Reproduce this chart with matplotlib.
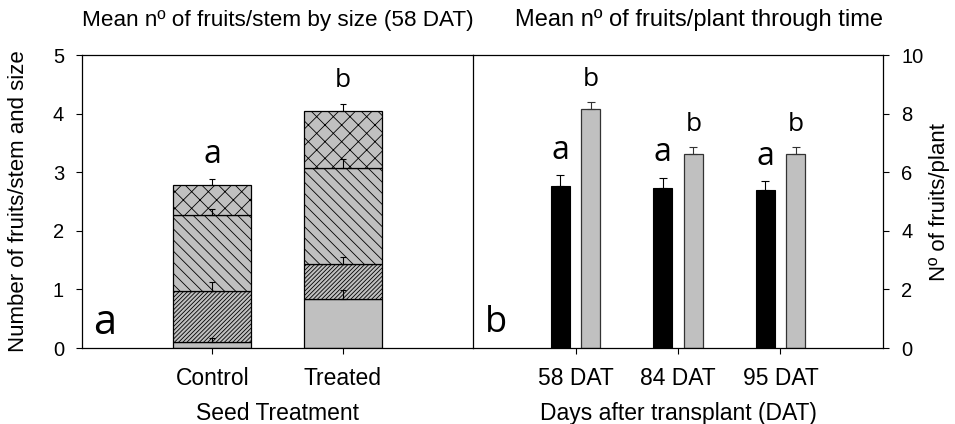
import matplotlib
matplotlib.use('Agg')
import matplotlib.pyplot as plt
import numpy as np

# ---- data ----
treatments = ['Control', 'Treated']
# stacked segments by fruit size class, bottom to top
seg_control = [0.10, 0.87, 1.30, 0.52]
seg_treated = [0.83, 0.60, 1.65, 0.96]
err_control = [0.07, 0.15, 0.11, 0.09]
err_treated = [0.16, 0.12, 0.14, 0.13]
letters_stem = ['a', 'b']

dat_labels = ['58 DAT', '84 DAT', '95 DAT']
plant_control = [5.54, 5.47, 5.38]
plant_control_err = [0.37, 0.35, 0.33]
plant_treated = [8.15, 6.63, 6.63]
plant_treated_err = [0.26, 0.23, 0.23]
letters_control = ['a', 'a', 'a']
letters_treated = ['b', 'b', 'b']

# ---- style ----
plt.rcParams['font.family'] = ['Liberation Sans', 'DejaVu Sans']
plt.rcParams['hatch.linewidth'] = 0.6
grey = '#c0c0c0'
hatches = [None, '////////', '\\\\\\', 'xx']
letter_font = ['Open Sans', 'DejaVu Sans']
fs = 16.5

fig = plt.figure(figsize=(9.55, 4.24), dpi=100)
ax1 = fig.add_axes([0.0859, 0.1792, 0.4094, 0.6910])
ax2 = fig.add_axes([0.4953, 0.1792, 0.4293, 0.6910])

# ---- panel a: stacked bars ----
x1 = np.arange(len(treatments))
segs = np.array([seg_control, seg_treated])
errs = np.array([err_control, err_treated])
bottom = np.zeros(len(treatments))
for k in range(segs.shape[1]):
    ax1.bar(x1, segs[:, k], width=0.6, bottom=bottom, color=grey,
            edgecolor='black', linewidth=0.9, hatch=hatches[k], zorder=2)
    bottom = bottom + segs[:, k]
    ax1.errorbar(x1, bottom, yerr=[np.zeros(len(x1)), errs[:, k]], fmt='none',
                 ecolor='black', elinewidth=0.8, capsize=2.5, capthick=0.8, zorder=3)

for i, lab in enumerate(letters_stem):
    top = segs[i].sum() + errs[i, -1] + 0.28
    size = 23 if lab == 'a' else 19
    ax1.text(x1[i], top, lab, ha='center', va='baseline', fontsize=size, family=letter_font)

ax1.set_xlim(-1, 2)
ax1.set_ylim(0, 5)
ax1.set_xticks(x1)
ax1.set_xticklabels(treatments, fontsize=fs)
ax1.set_yticks(np.arange(0, 6, 1))
ax1.tick_params(axis='y', labelsize=14.5, length=4, pad=9, direction='out')
ax1.tick_params(axis='x', length=4, pad=10, direction='out')
ax1.set_xlabel('Seed Treatment', fontsize=fs, labelpad=8)
ax1.set_ylabel('Number of fruits/stem and size', fontsize=16, labelpad=17)
ax1.spines['right'].set_visible(False)
ax1.text(0.028, 0.048, 'a', transform=ax1.transAxes, fontsize=30, family=letter_font,
         ha='left', va='baseline')
ax1.set_title('Mean nº of fruits/stem by size (58 DAT)', fontsize=16.2, pad=21)

# ---- panel b: grouped bars through time ----
x2 = np.arange(len(dat_labels))
w = 0.185
ax2.bar(x2 - 0.15, plant_control, width=w, color='black', edgecolor='black',
        linewidth=0.8, zorder=2)
ax2.bar(x2 + 0.15, plant_treated, width=w, color=grey, edgecolor='#333333',
        linewidth=0.9, zorder=2)
ax2.errorbar(x2 - 0.15, plant_control, yerr=[np.zeros(3), plant_control_err], fmt='none',
             ecolor='black', elinewidth=0.8, capsize=3, capthick=0.8, zorder=3)
ax2.errorbar(x2 + 0.15, plant_treated, yerr=[np.zeros(3), plant_treated_err], fmt='none',
             ecolor='#333333', elinewidth=0.8, capsize=3, capthick=0.8, zorder=3)

for i in range(len(x2)):
    ax2.text(x2[i] - 0.15, plant_control[i] + plant_control_err[i] + 0.55, letters_control[i],
             ha='center', va='baseline', fontsize=23, family=letter_font)
    ax2.text(x2[i] + 0.15, plant_treated[i] + plant_treated_err[i] + 0.55, letters_treated[i],
             ha='center', va='baseline', fontsize=19, family=letter_font)

ax2.set_xlim(-1, 3)
ax2.set_ylim(0, 10)
ax2.set_xticks(x2)
ax2.set_xticklabels(dat_labels, fontsize=fs)
ax2.yaxis.tick_right()
ax2.yaxis.set_label_position('right')
ax2.set_yticks(np.arange(0, 11, 2))
ax2.tick_params(axis='y', labelsize=14.5, length=4, pad=9, direction='out')
ax2.tick_params(axis='x', length=4, pad=10, direction='out')
ax2.set_xlabel('Days after transplant (DAT)', fontsize=fs, labelpad=8)
ax2.set_ylabel('Nº of fruits/plant', fontsize=16, labelpad=4)
ax2.text(0.029, 0.055, 'b', transform=ax2.transAxes, fontsize=26, family=letter_font,
         ha='left', va='baseline')
ax2.set_title('Mean nº of fruits/plant through time', fontsize=17, pad=21, loc='right')

for ax in (ax1, ax2):
    for sp in ax.spines.values():
        sp.set_linewidth(0.9)

fig.savefig('out.png', dpi=100)
